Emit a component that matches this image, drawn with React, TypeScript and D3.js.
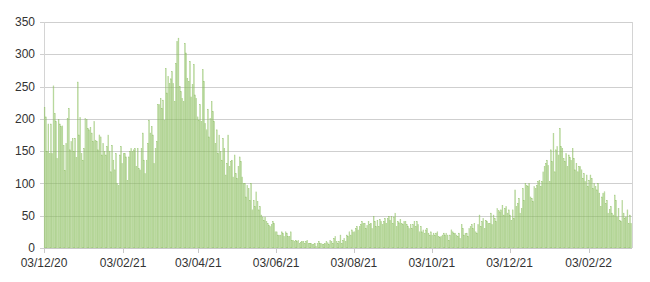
import React from "react";
import * as d3 from "d3";

// Daily values, 03/12/2020 onward (one value per day), split by period
const startDate = "03/12/20";
const valuesDec20Feb21 = [
  218, 203, 149, 192, 146, 192, 146, 251, 208, 196,
  139, 199, 192, 188, 189, 159, 120, 162, 201, 216,
  152, 165, 170, 149, 170, 140, 257, 175, 202, 146,
  136, 154, 201, 199, 185, 183, 187, 178, 165, 196,
  167, 165, 152, 175, 172, 144, 162, 149, 144, 157,
  175, 150, 118, 159, 136, 121, 146, 100, 97, 144,
  157, 131, 146, 146, 141, 105, 141, 149, 154, 149,
  152, 154, 126, 154,
];
const valuesFeb21May21 = [
  123, 121, 154, 178, 136, 115, 136, 162, 198, 178,
  188, 175, 131, 154, 165, 222, 222, 232, 216, 229,
  198, 278, 240, 266, 255, 262, 273, 255, 227, 286,
  320, 325, 250, 242, 232, 227, 317, 302, 263, 258,
  289, 234, 253, 284, 237, 232, 203, 198, 222, 196,
  276, 258, 193, 183, 215, 172, 201, 227, 211, 196,
  162, 183, 146, 175, 149, 136, 170, 154, 113, 131,
  175, 126, 134, 136, 110, 144, 115,
];
const valuesMay21Jul21 = [
  108, 126, 141, 134, 110, 100, 100, 79, 97, 92,
  74, 100, 59, 74, 64, 87, 72, 59, 64, 51,
  48, 43, 48, 41, 38, 35, 33, 36, 41, 38,
  25, 25, 20, 20, 20, 25, 23, 18, 25, 23,
  18, 18, 25, 12, 12, 10, 12, 10, 12, 7,
  9, 10, 10, 7, 10, 12, 7, 7, 7, 5,
  6, 7, 2, 7, 10, 7, 7, 6, 5, 7,
  10, 8, 5, 12, 10, 7, 15,
];
const valuesJul21Oct21 = [
  18, 10, 7, 10, 20, 7, 12, 15, 10, 20,
  18, 25, 20, 28, 25, 25, 30, 33, 28, 33,
  36, 41, 38, 38, 30, 35, 41, 36, 38, 30,
  49, 41, 33, 43, 33, 44, 41, 36, 41, 46,
  38, 46, 49, 43, 49, 38, 48, 54, 33, 41,
  39, 44, 38, 36, 41, 41, 36, 33, 30, 36,
  30, 36, 41, 33, 41, 36, 25, 33, 25, 28,
  23, 28, 30, 23, 20, 25, 20,
];
const valuesOct21Dec21 = [
  23, 20, 23, 25, 18, 16, 18, 20, 23, 20,
  23, 20, 12, 20, 28, 25, 23, 23, 20, 18,
  23, 15, 36, 30, 20, 22, 23, 18, 30, 33,
  36, 30, 38, 25, 23, 36, 51, 33, 41, 46,
  30, 43, 41, 38, 38, 54, 36, 51, 46, 41,
  61, 58, 56, 59, 66, 51, 61, 64, 54, 59,
  51, 43, 59, 46, 90, 64, 69, 77, 54, 61,
  92, 74, 100, 97, 95, 100, 79,
];
const valuesDec21Mar22 = [
  77, 72, 95, 92, 97, 103, 105, 95, 103, 118,
  126, 131, 136, 128, 103, 152, 134, 177, 118, 152,
  157, 144, 185, 157, 154, 139, 134, 146, 126, 144,
  140, 136, 154, 139, 121, 131, 118, 126, 126, 121,
  108, 115, 103, 113, 95, 105, 113, 108, 92, 100,
  95, 90, 100, 85, 64, 79, 85, 87, 69, 74,
  54, 60, 64, 54, 51, 82, 74, 48, 61, 43,
  41, 74, 54, 46, 48, 59, 38, 51, 38,
];

const dateTickLabels = ["03/12/20", "03/02/21", "03/04/21", "03/06/21", "03/08/21", "03/10/21", "03/12/21", "03/02/22"];
const yTickValues = [0, 50, 100, 150, 200, 250, 300, 350];

const values = [
  ...valuesDec20Feb21,
  ...valuesFeb21May21,
  ...valuesMay21Jul21,
  ...valuesJul21Oct21,
  ...valuesOct21Dec21,
  ...valuesDec21Mar22,
];

const W = 650;
const H = 282;
const margin = { left: 44, right: 18, top: 22, bottom: 34 };
const font = "'Liberation Sans', Arial, Helvetica, sans-serif";

export default function App() {
  const parse = d3.timeParse("%d/%m/%y");
  const start = parse(startDate) as Date;
  const idx = d3.range(values.length);
  const x = d3
    .scaleBand<number>()
    .domain(idx)
    .range([margin.left, W - margin.right])
    .padding(0);
  const y = d3
    .scaleLinear()
    .domain([0, 350])
    .range([H - margin.bottom, margin.top]);
  const bw = x.bandwidth();
  const x0 = margin.left;
  const x1 = W - margin.right;
  const yBase = y(0);

  const dateTicks = dateTickLabels.map((lab) => {
    const d = parse(lab) as Date;
    const i = d3.timeDay.count(start, d);
    return { lab, px: margin.left + i * bw };
  });

  return (
    <svg
      width={W}
      height={H}
      style={{ position: "absolute", left: 0, top: 0, background: "#fff" }}
      fontFamily={font}
    >
      {yTickValues.map((v) => (
        <line
          key={"g" + v}
          x1={x0 - 4}
          x2={x1}
          y1={Math.round(y(v)) + 0.5}
          y2={Math.round(y(v)) + 0.5}
          stroke="#cfcfcf"
          strokeWidth={1}
        />
      ))}
      <line x1={x0 + 0.5} x2={x0 + 0.5} y1={y(350)} y2={yBase} stroke="#d4d4d4" />
      <line x1={x1 + 0.5} x2={x1 + 0.5} y1={y(350)} y2={yBase} stroke="#d4d4d4" />
      <g>
        {values.map((v, i) => (
          <rect
            key={i}
            x={(x(i) as number) + 0.15}
            y={y(v)}
            width={Math.max(0.5, bw - 0.45)}
            height={yBase - y(v)}
            fill="#a8d383"
            fillOpacity={0.45}
            stroke="#86bb58"
            strokeOpacity={0.85}
            strokeWidth={0.4}
          />
        ))}
      </g>
      <line x1={x0} x2={x1} y1={Math.round(yBase) + 0.5} y2={Math.round(yBase) + 0.5} stroke="#c8c8c8" />
      {dateTicks.map((t) => (
        <g key={t.lab}>
          <line
            x1={Math.round(t.px) + 0.5}
            x2={Math.round(t.px) + 0.5}
            y1={yBase}
            y2={yBase + 5}
            stroke="#c8c8c8"
          />
          <text x={t.px} y={267} fontSize={12} textAnchor="middle" fill="#333">
            {t.lab}
          </text>
        </g>
      ))}
      {yTickValues.map((v) => (
        <text
          key={"t" + v}
          x={35}
          y={y(v)}
          dy="0.35em"
          fontSize={12}
          textAnchor="end"
          fill="#333"
        >
          {v}
        </text>
      ))}
    </svg>
  );
}
